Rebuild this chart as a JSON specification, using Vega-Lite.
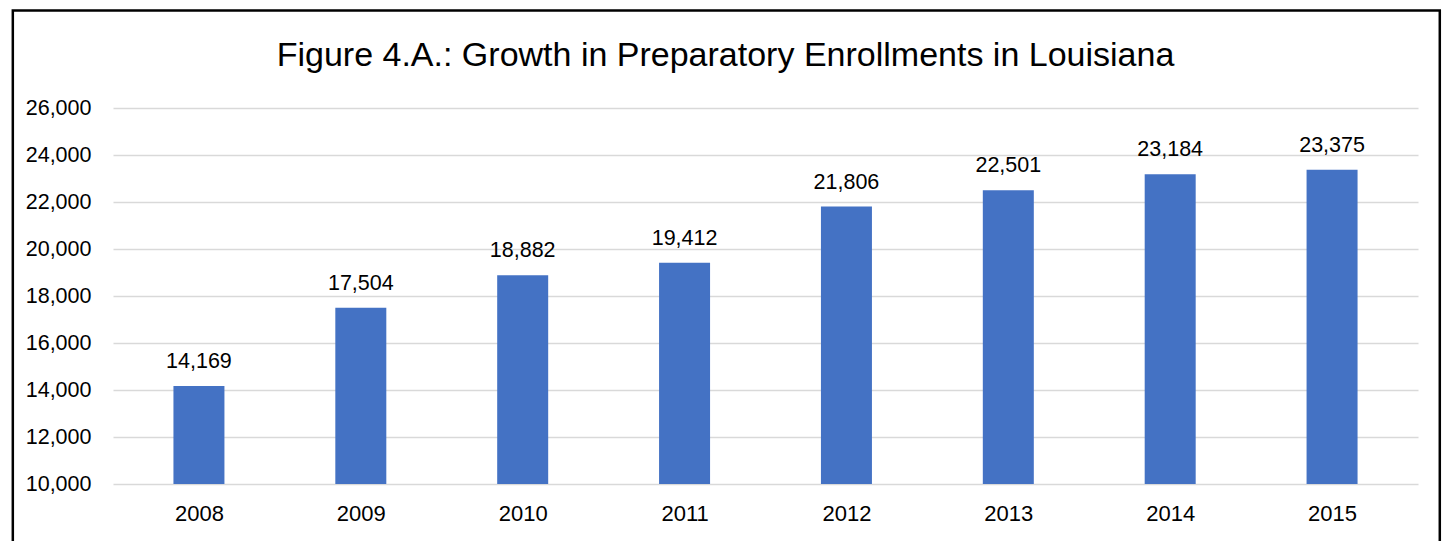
{
  "$schema": "https://vega.github.io/schema/vega-lite/v6.json",
  "width": 1305,
  "height": 376,
  "autosize": {"type": "none"},
  "padding": {"left": 113, "top": 108, "right": 34, "bottom": 57},
  "background": "white",
  "title": {
    "text": "Figure 4.A.: Growth in Preparatory Enrollments in Louisiana",
    "font": "Liberation Sans",
    "fontSize": 34,
    "fontWeight": "normal",
    "color": "#000000",
    "anchor": "middle",
    "frame": "group",
    "dx": -40,
    "offset": -64
  },
  "config": {"view": {"stroke": null}, "font": "Liberation Sans"},
  "datasets": {
    "enroll": [
      {"year": 2008, "value": 14169},
      {"year": 2009, "value": 17504},
      {"year": 2010, "value": 18882},
      {"year": 2011, "value": 19412},
      {"year": 2012, "value": 21806},
      {"year": 2013, "value": 22501},
      {"year": 2014, "value": 23184},
      {"year": 2015, "value": 23375}
    ]
  },
  "layer": [
    {
      "data": {"name": "enroll"},
      "mark": {"type": "bar", "width": 51, "color": "#4472C4"},
      "encoding": {
        "x": {
          "field": "year", "type": "quantitative",
          "scale": {"domain": [2007.5, 2015.5], "nice": false, "zero": false},
          "axis": {"values": [2008, 2009, 2010, 2011, 2012, 2013, 2014, 2015], "labelExpr": "format(datum.value, 'd')", "grid": false, "ticks": false, "domain": false, "labelFontSize": 22, "labelColor": "#000000", "labelPadding": 19, "title": null}
        },
        "y": {
          "field": "value", "type": "quantitative",
          "scale": {"domain": [10000, 26000], "nice": false, "zero": false},
          "axis": {"values": [10000, 12000, 14000, 16000, 18000, 20000, 22000, 24000, 26000], "labelExpr": "format(datum.value, ',')", "grid": true, "gridColor": "#D9D9D9", "gridWidth": 1.5, "domain": false, "ticks": false, "labelFontSize": 21.5, "labelColor": "#000000", "labelPadding": 22, "title": null}
        },
        "y2": {"datum": 10000}
      }
    },
    {
      "data": {"name": "enroll"},
      "mark": {"type": "text", "dy": -18, "baseline": "alphabetic", "fontSize": 21.5, "color": "#000000"},
      "encoding": {
        "x": {"field": "year", "type": "quantitative"},
        "y": {"field": "value", "type": "quantitative"},
        "text": {"field": "value", "type": "quantitative", "format": ","}
      }
    },
    {
      "data": {"values": [{"frame": "chart"}]},
      "mark": {"type": "rect", "fillOpacity": 0, "stroke": "#000000", "strokeWidth": 2.5, "clip": false},
      "encoding": {
        "x": {"datum": 2006.8502, "type": "quantitative"},
        "x2": {"datum": 2015.6655},
        "y": {"datum": 30149, "type": "quantitative"},
        "y2": {"datum": 5700}
      }
    }
  ]
}
